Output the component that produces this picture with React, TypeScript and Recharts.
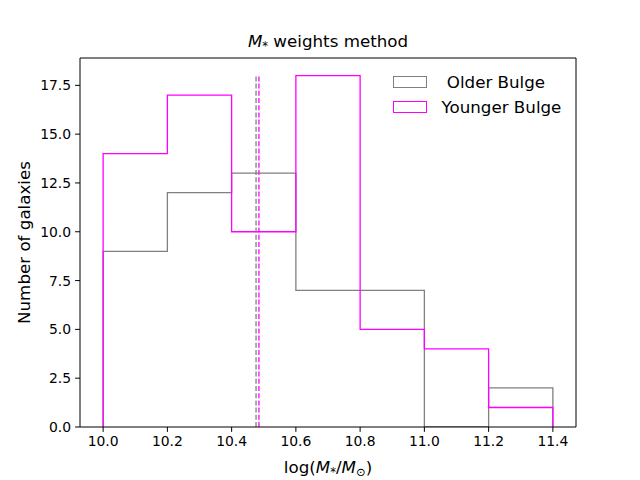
import React from "react";
import {
  ComposedChart,
  Line,
  XAxis,
  YAxis,
  Legend,
  Label,
  ReferenceLine,
} from "recharts";

const binEdges = [10.0, 10.2, 10.4, 10.6, 10.8, 11.0, 11.2, 11.4];
const olderCounts = [9, 12, 13, 7, 7, 0, 2];
const youngerCounts = [14, 17, 10, 18, 5, 4, 1];
const olderMean = 10.476;
const youngerMean = 10.485;
const meanLineTop = 18;

const xTicks = [10.0, 10.2, 10.4, 10.6, 10.8, 11.0, 11.2, 11.4];
const yTicks = [0, 2.5, 5, 7.5, 10, 12.5, 15, 17.5];
const xDomain = [9.928, 11.472];
const yDomain = [0, 18.9];

const OLDER = "#808080";
const YOUNGER = "#ff00ff";
const FONT = "DejaVu Sans";

// outline of a histtype="step" histogram
const stepOutline = (edges: number[], counts: number[], key: string) => {
  const pts: any[] = [{ x: edges[0], [key]: 0 }];
  counts.forEach((c, i) => pts.push({ x: edges[i], [key]: c }));
  const last = edges[edges.length - 1];
  pts.push({ x: last, [key]: counts[counts.length - 1] });
  pts.push({ x: last, [key]: 0 });
  return pts;
};

const olderData = stepOutline(binEdges, olderCounts, "older");
const youngerData = stepOutline(binEdges, youngerCounts, "younger");
const olderMeanLine = [
  { x: olderMean, olderMean: 0 },
  { x: olderMean, olderMean: meanLineTop },
];
const youngerMeanLine = [
  { x: youngerMean, youngerMean: 0 },
  { x: youngerMean, youngerMean: meanLineTop },
];

const legendItems = [
  { name: " Older Bulge", color: OLDER },
  { name: "Younger Bulge", color: YOUNGER },
];

const LegendBox = () => (
  <div style={{ fontFamily: FONT, fontSize: 16.7, color: "#000" }}>
    {legendItems.map((it) => (
      <div
        key={it.name}
        style={{ display: "flex", alignItems: "center", height: 25, whiteSpace: "pre" }}
      >
        <span
          style={{
            display: "inline-block",
            width: 32,
            height: 10,
            border: `1.4px solid ${it.color}`,
            marginRight: 14.5,
          }}
        />
        <span>{it.name}</span>
      </div>
    ))}
  </div>
);

const XLabel = (props: any) => {
  const { viewBox } = props;
  const cx = viewBox.x + viewBox.width / 2;
  const y = viewBox.y + 46;
  return (
    <text x={cx} y={y} textAnchor="middle" fontFamily={FONT} fontSize={16.7} fill="#000">
      log(<tspan fontStyle="italic">M</tspan>
      <tspan fontSize={11.5} dy={3}>*</tspan>
      <tspan dy={-3}>/</tspan>
      <tspan fontStyle="italic">M</tspan>
      <tspan fontSize={11.5} dy={3}>⊙</tspan>
      <tspan dy={-3}>)</tspan>
    </text>
  );
};

const App: React.FC = () => {
  const tick = { fill: "#000", fontSize: 13.9, fontFamily: FONT };
  return (
    <div style={{ position: "absolute", left: 0, top: 0, width: 640, height: 480, background: "#fff" }}>
      <div
        style={{
          position: "absolute",
          left: 80,
          width: 496,
          top: 31,
          textAlign: "center",
          fontFamily: FONT,
          fontSize: 16.7,
          color: "#000",
        }}
      >
        <i>M</i>
        <span style={{ fontSize: 11.5, position: "relative", top: 3 }}>*</span> weights method
      </div>
      <ComposedChart
        width={640}
        height={480}
        margin={{ top: 58, right: 64, bottom: 0, left: 0 }}
      >
        <XAxis
          dataKey="x"
          type="number"
          domain={xDomain}
          allowDataOverflow
          ticks={xTicks}
          tickFormatter={(v: number) => v.toFixed(1)}
          tick={tick}
          tickSize={4.9}
          tickMargin={4}
          height={53}
          stroke="#000"
          interval={0}
        >
          <Label content={<XLabel />} />
        </XAxis>
        <YAxis
          type="number"
          domain={yDomain}
          allowDataOverflow
          ticks={yTicks}
          tickFormatter={(v: number) => v.toFixed(1)}
          tick={tick}
          tickSize={4.9}
          tickMargin={4}
          width={80}
          stroke="#000"
          interval={0}
        >
          <Label
            value="Number of galaxies"
            angle={-90}
            position="insideLeft"
            offset={0}
            dx={24}
            style={{ fontFamily: FONT, fontSize: 16.7, fill: "#000", textAnchor: "middle" }}
          />
        </YAxis>
        <ReferenceLine y={yDomain[1]} stroke="#000" ifOverflow="visible" />
        <ReferenceLine x={xDomain[1]} stroke="#000" ifOverflow="visible" />
        <Legend
          layout="horizontal"
          verticalAlign="middle"
          align="center"
          wrapperStyle={{ top: 69, left: 393, width: 200 }}
          content={<LegendBox />}
        />
        <Line
          data={olderData}
          dataKey="older"
          type="stepAfter"
          stroke={OLDER}
          strokeWidth={1.3}
          dot={false}
          activeDot={false}
          isAnimationActive={false}
          legendType="none"
        />
        <Line
          data={youngerData}
          dataKey="younger"
          type="stepAfter"
          stroke={YOUNGER}
          strokeWidth={1.3}
          dot={false}
          activeDot={false}
          isAnimationActive={false}
          legendType="none"
        />
        <Line
          data={olderMeanLine}
          dataKey="olderMean"
          type="linear"
          stroke={OLDER}
          strokeWidth={1.3}
          strokeDasharray="5 2.2"
          dot={false}
          activeDot={false}
          isAnimationActive={false}
          legendType="none"
        />
        <Line
          data={youngerMeanLine}
          dataKey="youngerMean"
          type="linear"
          stroke={YOUNGER}
          strokeWidth={1.3}
          strokeDasharray="5 2.2"
          dot={false}
          activeDot={false}
          isAnimationActive={false}
          legendType="none"
        />
      </ComposedChart>
    </div>
  );
};

export default App;
